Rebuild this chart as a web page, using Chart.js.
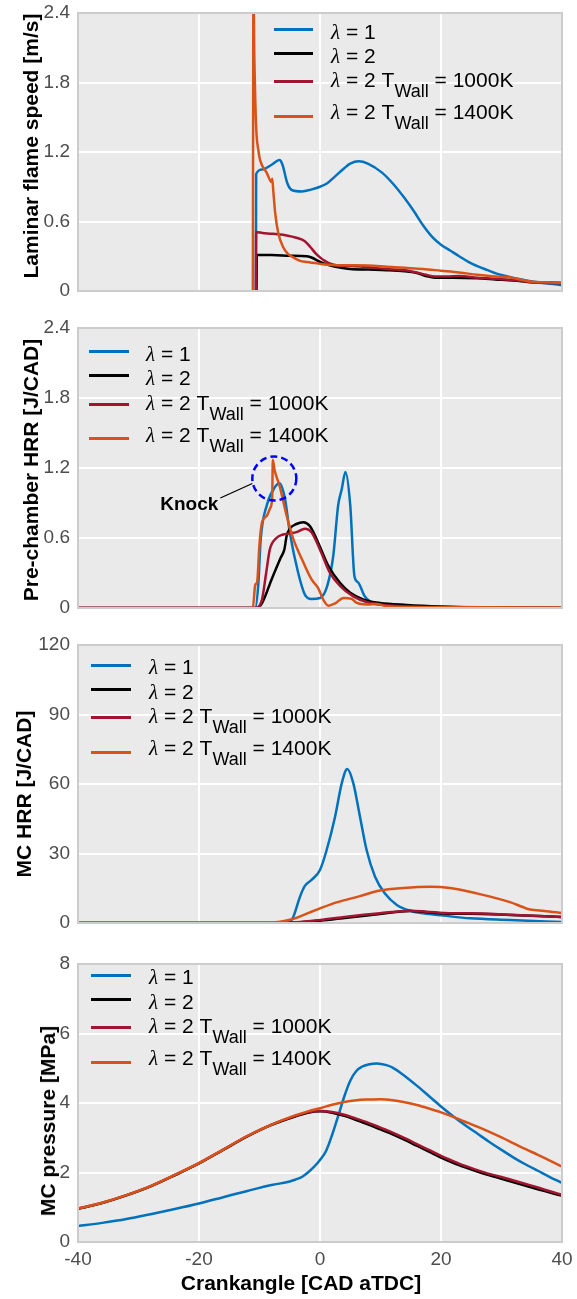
<!DOCTYPE html>
<html>
<head>
<meta charset="utf-8">
<script src="https://cdn.jsdelivr.net/npm/chart.js@4.4.0/dist/chart.umd.min.js"></script>
<style>
body { margin: 0; background: #fff; }
#fig { position: relative; width: 577px; height: 1299px; font-family: "Liberation Sans", Arial, sans-serif; color: #000; }
canvas { position: absolute; left: 0; }
.ytitle { position: absolute; font-weight: bold; font-size: 21px; white-space: nowrap; transform: translate(-50%, -50%) rotate(-90deg); }
.xtitle { position: absolute; font-weight: bold; font-size: 21px; white-space: nowrap; transform: translate(-50%, -50%); }
.key { position: absolute; height: 3px; }
.lab { position: absolute; font-size: 21px; line-height: 24px; white-space: nowrap; }
.lab i { font-family: "Liberation Serif", serif; }
.lab .sub { position: relative; top: 10px; font-size: 18px; }
</style>
</head>
<body>
<div id="fig"></div>
<script>
const fig = document.getElementById('fig');

const colors = ['#0072BD', '#000000', '#A2142F', '#D95319'];
const lambdaValues = ['1', '2', '2', '2'];
const wallTemps = ['', '', '1000K', '1400K'];
const crankTicks = [-40, -20, 0, 20, 40];

// laminar flame speed [m/s]
const speedTicks = [0, 0.6, 1.2, 1.8, 2.4];
const speedL1 = [[-10.6,0],[-10.55,1.01],[-9.5,1.05],[-8,1.09],[-6.7,1.13],[-6.2,1.09],[-5.4,0.93],[-4.6,0.87],[-3,0.86],[-1.5,0.875],[0,0.9],[1.2,0.93],[2.5,0.99],[4,1.06],[5,1.1],[6.4,1.12],[7.9,1.1],[10.3,1.02],[12,0.93],[14,0.8],[15.5,0.69],[17,0.57],[18.5,0.47],[20,0.4],[21.5,0.35],[23,0.3],[24.6,0.25],[26.2,0.21],[27.7,0.18],[29.2,0.15],[30.7,0.13],[32.2,0.11],[33.7,0.095],[35.3,0.08],[37,0.07],[38.5,0.06],[40,0.05]];
const speedL2 = [[-10.5,0],[-10.45,0.31],[-8,0.31],[-5,0.305],[-2.2,0.3],[-1.2,0.285],[-0.5,0.265],[0.5,0.24],[1.7,0.22],[3.5,0.2],[5,0.19],[8,0.185],[11,0.18],[14,0.17],[16,0.155],[17.5,0.13],[19,0.115],[22,0.115],[26,0.11],[29,0.1],[32,0.09],[35,0.075],[40,0.07]];
const speedT1000 = [[-10.6,0],[-10.55,0.51],[-9.5,0.5],[-8.3,0.495],[-7,0.49],[-5.5,0.48],[-3.9,0.46],[-2.5,0.43],[-1.6,0.38],[-0.8,0.33],[0,0.29],[0.8,0.26],[1.7,0.235],[3,0.22],[5,0.215],[8,0.205],[11,0.19],[14,0.18],[16,0.16],[17.5,0.14],[19,0.125],[21,0.125],[23,0.13],[26,0.115],[29,0.105],[32,0.095],[35,0.075],[37,0.07],[40,0.07]];
const speedT1400 = [[-11.1,0],[-11,2.6],[-10.85,2],[-10.7,1.65],[-10.5,1.36],[-10.2,1.22],[-9.9,1.13],[-8.8,1.02],[-8,0.94],[-7.9,0.97],[-7.7,0.85],[-7.4,0.67],[-6.9,0.5],[-6.1,0.38],[-5.3,0.32],[-4.4,0.29],[-3.3,0.26],[-2.2,0.25],[0,0.235],[1.7,0.225],[5,0.222],[8,0.22],[11,0.21],[14,0.2],[17,0.19],[20,0.175],[23,0.16],[26,0.14],[29,0.125],[31,0.12],[33,0.1],[35,0.08],[37,0.075],[40,0.07]];

// pre-chamber HRR [J/CAD]
const pcTicks = [0, 0.6, 1.2, 1.8, 2.4];
const pcL1 = [[-40,0],[-10.7,0],[-10.2,0.2],[-9.8,0.59],[-8.8,0.88],[-7.4,1.04],[-6.7,1.07],[-5.8,0.94],[-5,0.65],[-3.6,0.3],[-2.5,0.115],[-1.4,0.078],[0,0.086],[1.2,0.19],[2.2,0.45],[3,0.88],[3.6,1.02],[4.2,1.165],[5,0.88],[5.7,0.27],[6.3,0.22],[7.4,0.1],[8.8,0.043],[11,0.03],[14.3,0.015],[20,0.008],[40,0.003]];
const pcL2 = [[-40,0],[-10.5,0],[-9.6,0.04],[-8,0.245],[-6.5,0.43],[-5.9,0.5],[-5.5,0.62],[-5,0.68],[-3.9,0.72],[-2.75,0.735],[-1.65,0.7],[-0.3,0.56],[1.4,0.36],[3.3,0.216],[5,0.13],[7.2,0.072],[9.9,0.043],[14.3,0.026],[20,0.012],[25,0.005],[40,0]];
const pcT1000 = [[-40,0],[-10.7,0],[-9.6,0.07],[-8.9,0.3],[-8.3,0.5],[-7.2,0.6],[-6.1,0.63],[-5,0.64],[-3.9,0.65],[-2.5,0.68],[-1.4,0.65],[0,0.5],[1.65,0.3],[3.3,0.19],[5.5,0.1],[7.7,0.052],[9.9,0.03],[13.2,0.015],[20,0.005],[40,0]];
const pcT1400 = [[-40,0],[-11.1,0],[-10.7,0.2],[-10.4,0.22],[-10,0.55],[-9.6,0.73],[-8.8,0.79],[-8.2,0.86],[-7.9,0.95],[-7.8,1.27],[-7.5,1.18],[-6.7,1.05],[-5.5,0.79],[-4.4,0.59],[-3,0.42],[-1.4,0.245],[-0.3,0.17],[0.55,0.07],[1.4,0.02],[2.5,0.04],[3.9,0.086],[5.2,0.078],[6.1,0.043],[7.7,0.03],[9.4,0.035],[11,0.015],[15,0.008],[40,0.005]];
const knockMark = [-7.55, 1.11];

// main chamber HRR [J/CAD]
const mcTicks = [0, 30, 60, 90, 120];
const mcL1 = [[-40,0],[-5.2,0],[-4.4,2.7],[-3.3,11.4],[-2.5,16],[-1.4,18.6],[0,22.9],[1.1,31.5],[2.5,46],[3.6,60.4],[4.5,66.5],[5.5,60.4],[6.6,46],[7.7,31.5],[9.1,20],[10.7,12.8],[12.7,7.8],[14.9,5.3],[17.1,4.2],[20.4,3.2],[24.8,2],[31.4,1.3],[40,0.4]];
const mcL2 = [[-40,0],[-6,0],[-3.9,0.2],[0,1],[4.4,2.3],[9.9,3.9],[14.9,5.2],[18.2,4.5],[21.5,4],[24.8,4],[31.4,3.5],[40,2.6]];
const mcT1000 = [[-40,0],[-7,0],[-3.9,0.3],[0,1.3],[4.4,2.7],[9.9,4.2],[14.9,5.3],[17.6,4.9],[21.5,4.2],[24.8,4.2],[31.4,3.6],[40,2.6]];
const mcT1400 = [[-40,0],[-8.3,0],[-6.6,0.6],[-5,1.4],[-3.9,2.2],[-1.65,4.6],[0,6.3],[2.75,8.9],[6.6,11.6],[9.9,14],[13.8,15.1],[18.2,15.6],[21.5,15.1],[25.9,12.8],[31.4,9],[33.5,6.9],[34.7,5.8],[37.1,5.2],[40,4.3]];

// main chamber pressure [MPa]
const pTicks = [0, 2, 4, 6, 8];
const pL1 = [[-40,0.46],[-36,0.55],[-32,0.66],[-28,0.8],[-24,0.95],[-20,1.11],[-16,1.29],[-12,1.47],[-8,1.64],[-5,1.74],[-4,1.8],[-3,1.87],[-2,2],[-1,2.16],[0,2.36],[1,2.62],[2,3.08],[3,3.62],[4,4.18],[5,4.64],[6,4.92],[7,5.05],[8,5.11],[9.4,5.14],[11,5.09],[12,5.02],[14,4.78],[16,4.5],[18,4.2],[20,3.9],[22,3.62],[24,3.36],[26,3.12],[28,2.88],[30,2.65],[32,2.43],[34,2.23],[36,2.05],[38,1.87],[40,1.7]];
const pL2 = [[-40,0.95],[-36,1.12],[-32,1.34],[-28,1.6],[-24,1.92],[-20,2.26],[-16,2.65],[-12,3.04],[-8,3.37],[-4,3.62],[-2,3.72],[0,3.76],[2,3.72],[4,3.63],[6,3.51],[8,3.38],[10,3.24],[12,3.1],[14,2.94],[16,2.77],[18,2.6],[20,2.43],[22,2.28],[24,2.15],[26,2.03],[28,1.92],[30,1.82],[32,1.72],[34,1.62],[36,1.52],[38,1.42],[40,1.33]];
const pT1000 = [[-40,0.96],[-36,1.13],[-32,1.35],[-28,1.61],[-24,1.93],[-20,2.27],[-16,2.66],[-12,3.05],[-8,3.38],[-4,3.63],[-2,3.73],[0,3.77],[2,3.74],[4,3.66],[6,3.55],[8,3.43],[10,3.29],[12,3.15],[14,2.99],[16,2.82],[18,2.65],[20,2.48],[22,2.33],[24,2.19],[26,2.07],[28,1.96],[30,1.87],[32,1.77],[34,1.67],[36,1.57],[38,1.46],[40,1.36]];
const pT1400 = [[-40,0.96],[-36,1.13],[-32,1.35],[-28,1.61],[-24,1.93],[-20,2.27],[-16,2.66],[-12,3.05],[-8,3.38],[-4,3.65],[-2,3.76],[0,3.85],[2,3.95],[4,4.03],[6,4.08],[8,4.1],[10,4.11],[12,4.08],[14,4.02],[16,3.94],[18,3.84],[20,3.73],[22,3.6],[24,3.46],[26,3.32],[28,3.17],[30,3.01],[32,2.84],[34,2.67],[36,2.51],[38,2.34],[40,2.17]];

const tickFont = { family: '"Liberation Sans", Arial, sans-serif', size: 19 };

// grey plot background + frame, like the matplotlib style
const frame = {
  id: 'frame',
  beforeDraw(chart) {
    const a = chart.chartArea, ctx = chart.ctx;
    ctx.save();
    ctx.fillStyle = '#eaeaea';
    ctx.fillRect(a.left, a.top, a.width, a.height);
    ctx.restore();
  },
  afterDatasetsDraw(chart) {
    const a = chart.chartArea, ctx = chart.ctx;
    ctx.save();
    ctx.strokeStyle = '#cccccc';
    ctx.lineWidth = 2;
    ctx.strokeRect(a.left, a.top, a.width, a.height);
    ctx.restore();
  }
};

const knock = {
  id: 'knock',
  afterDatasetsDraw(chart) {
    const ctx = chart.ctx;
    const cx = chart.scales.x.getPixelForValue(knockMark[0]);
    const cy = chart.scales.y.getPixelForValue(knockMark[1]);
    ctx.save();
    ctx.strokeStyle = '#0000ff';
    ctx.lineWidth = 2.5;
    ctx.setLineDash([7, 4]);
    ctx.beginPath();
    ctx.arc(cx, cy, 22, 0, Math.PI * 2);
    ctx.stroke();
    ctx.setLineDash([]);
    ctx.strokeStyle = '#000';
    ctx.lineWidth = 1.3;
    ctx.beginPath();
    ctx.moveTo(cx - 54, cy + 19.5);
    ctx.lineTo(cx - 22, cy + 5);
    ctx.stroke();
    ctx.fillStyle = '#000';
    ctx.font = 'bold 19px "Liberation Sans", Arial, sans-serif';
    ctx.textAlign = 'right';
    ctx.textBaseline = 'middle';
    ctx.fillText('Knock', cx - 56, cy + 26);
    ctx.restore();
  }
};

function inner(c, lo, hi) {
  const v = c.tick ? c.tick.value : lo;
  return (v === lo || v === hi) ? 'rgba(0,0,0,0)' : '#ffffff';
}

function panel(top, height, yTicks, series, showX, extra) {
  const cv = document.createElement('canvas');
  cv.width = 577;
  cv.height = height;
  cv.style.top = top + 'px';
  fig.appendChild(cv);
  const yMax = yTicks[yTicks.length - 1];
  return new Chart(cv, {
    type: 'line',
    data: {
      datasets: series.map((pts, i) => ({
        data: pts.map(p => ({ x: p[0], y: p[1] })),
        borderColor: colors[i],
        borderWidth: 2.5,
        pointRadius: 0,
        fill: false,
        cubicInterpolationMode: 'monotone',
        order: 4 - i
      }))
    },
    options: {
      responsive: false,
      animation: false,
      devicePixelRatio: 1,
      events: [],
      layout: { padding: { top: 13, right: 15, left: 0, bottom: showX ? 0 : 12 } },
      plugins: { legend: { display: false }, tooltip: { enabled: false } },
      scales: {
        x: {
          type: 'linear', min: -40, max: 40,
          afterBuildTicks: s => { s.ticks = crankTicks.map(v => ({ value: v })); },
          afterFit: s => { s.height = showX ? 57 : 0; s.paddingLeft = 0; s.paddingRight = 0; },
          grid: { color: c => inner(c, -40, 40), lineWidth: 2, drawTicks: false },
          border: { display: false },
          ticks: { display: showX, padding: 6, color: '#4d4d4d', font: tickFont, maxRotation: 0, autoSkip: false, callback: v => String(v) }
        },
        y: {
          min: 0, max: yMax,
          afterBuildTicks: s => { s.ticks = yTicks.map(v => ({ value: v })); },
          afterFit: s => { s.width = 78; s.paddingTop = 0; s.paddingBottom = 0; },
          grid: { color: c => inner(c, 0, yMax), lineWidth: 2, drawTicks: false },
          border: { display: false },
          ticks: { padding: 8, color: '#4d4d4d', font: tickFont, callback: v => String(v) }
        }
      }
    },
    plugins: [frame].concat(extra || [])
  });
}

panel(0, 303, speedTicks, [speedL1, speedL2, speedT1000, speedT1400], false);
panel(315, 305, pcTicks, [pcL1, pcL2, pcT1000, pcT1400], false, [knock]);
panel(632, 303, mcTicks, [mcL1, mcL2, mcT1000, mcT1400], false);
panel(951, 348, pTicks, [pL1, pL2, pT1000, pT1400], true);

// axis titles
function yTitle(text, cx, cy) {
  const d = document.createElement('div');
  d.className = 'ytitle';
  d.style.left = cx + 'px';
  d.style.top = cy + 'px';
  d.textContent = text;
  fig.appendChild(d);
}
yTitle('Laminar flame speed [m/s]', 31, 145.5);
yTitle('Pre-chamber HRR [J/CAD]', 31, 470);
yTitle('MC HRR [J/CAD]', 24, 794);
yTitle('MC pressure [MPa]', 48, 1121);

const xt = document.createElement('div');
xt.className = 'xtitle';
xt.style.left = '301px';
xt.style.top = '1283px';
xt.textContent = 'Crankangle [CAD aTDC]';
fig.appendChild(xt);

// legends (with subscript)
const keyRows = [0, 24, 52.5, 87];
const textRows = [2.4, 26.6, 51, 83];
function legend(x0, x1, y0, tx) {
  lambdaValues.forEach((lv, i) => {
    const k = document.createElement('div');
    k.className = 'key';
    k.style.left = x0 + 'px';
    k.style.width = (x1 - x0) + 'px';
    k.style.top = (y0 + keyRows[i] - 1.5) + 'px';
    k.style.background = colors[i];
    fig.appendChild(k);
    const t = document.createElement('div');
    t.className = 'lab';
    t.style.left = tx + 'px';
    t.style.top = (y0 + textRows[i] - 12) + 'px';
    t.innerHTML = '<i>λ</i> = ' + lv + (wallTemps[i] ? ' T<span class="sub">Wall</span> = ' + wallTemps[i] : '');
    fig.appendChild(t);
  });
}
legend(274, 313, 29.3, 331);
legend(89, 129, 351.7, 146);
legend(91, 131, 665, 149);
legend(91, 131, 975, 149);
</script>
</body>
</html>
